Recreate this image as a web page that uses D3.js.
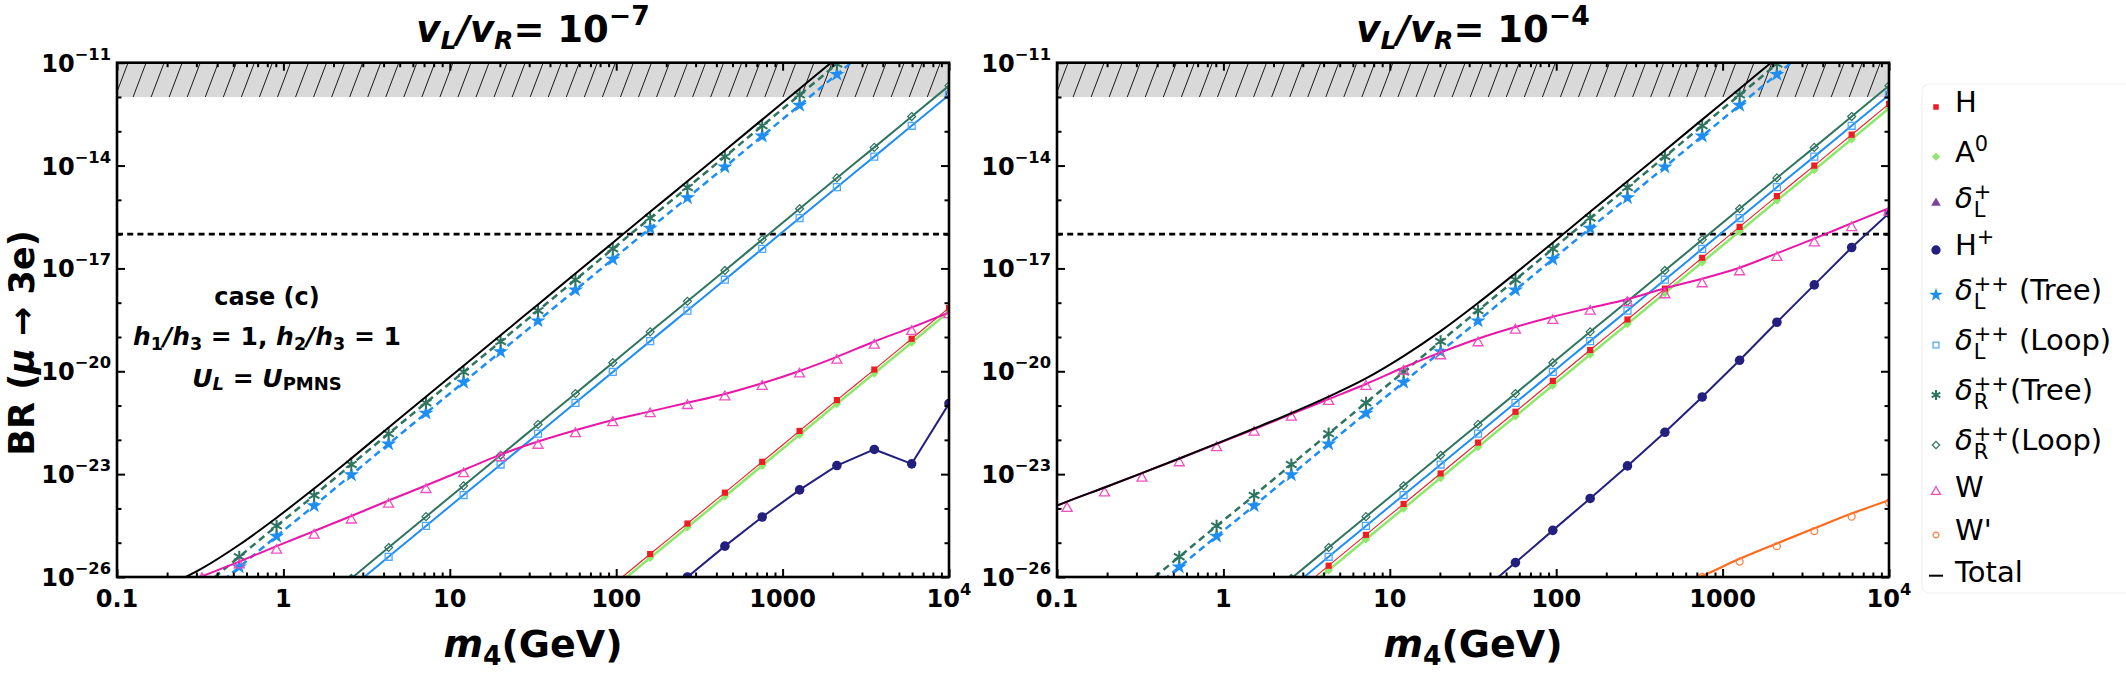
<!DOCTYPE html>
<html><head><meta charset="utf-8">
<script src="https://cdn.jsdelivr.net/npm/d3@7"></script>
<style>
body{margin:0;background:#fff;}
text{font-family:"DejaVu Sans",sans-serif;}
</style></head><body>
<svg id="c" width="2126" height="674" style="background:#fff"></svg>
<script>
// ---------- DATA (log10 of BR at each mass m4 in GeV) ----------
const massGrid = [0.1, 0.115, 0.193, 0.324, 0.543, 0.91, 1.53, 2.56, 4.29, 7.19, 12.1, 20.2, 33.9, 56.9, 95.4, 160, 268, 450, 754, 1265, 2120, 3557, 5966, 10000];

const deltaRTree = [-28.35,-28.11,-27.21,-26.31,-25.41,-24.51,-23.62,-22.72,-21.82,-20.92,-20.02,-19.13,-18.23,-17.33,-16.43,-15.53,-14.64,-13.74,-12.84,-11.94,-11.04,-10.15,-9.25,-8.35];
const deltaLTree = [-28.65,-28.41,-27.51,-26.61,-25.71,-24.81,-23.92,-23.02,-22.12,-21.22,-20.32,-19.43,-18.53,-17.63,-16.73,-15.83,-14.94,-14.04,-13.14,-12.24,-11.34,-10.45,-9.55,-8.65];
const deltaRLoop = [-31.67,-31.43,-30.53,-29.63,-28.73,-27.83,-26.94,-26.04,-25.14,-24.24,-23.34,-22.45,-21.55,-20.65,-19.75,-18.85,-17.96,-17.06,-16.16,-15.26,-14.36,-13.47,-12.57,-11.67];
const deltaLLoop = [-31.94,-31.70,-30.80,-29.90,-29.00,-28.10,-27.21,-26.31,-25.41,-24.51,-23.61,-22.72,-21.82,-20.92,-20.02,-19.12,-18.23,-17.33,-16.43,-15.53,-14.63,-13.74,-12.84,-11.94];

// v_L/v_R = 1e-7
const hLeft   = [-38.15,-37.91,-37.01,-36.11,-35.21,-34.31,-33.42,-32.52,-31.62,-30.72,-29.82,-28.93,-28.03,-27.13,-26.23,-25.33,-24.44,-23.54,-22.64,-21.74,-20.84,-19.95,-19.05,-18.15];
const a0Left  = [-38.26,-38.02,-37.12,-36.22,-35.32,-34.42,-33.53,-32.63,-31.73,-30.83,-29.93,-29.04,-28.14,-27.24,-26.34,-25.44,-24.55,-23.65,-22.75,-21.85,-20.95,-20.06,-19.16,-18.26];
const hPlusLeft = [null,null,null,null,null,null,null,null,null,null,null,null,null,null,null,-26.95,-26.0,-25.10,-24.25,-23.46,-22.75,-22.28,-22.70,-20.94];
const wLeft   = [-27.0,-26.88,-26.43,-25.98,-25.55,-25.10,-24.66,-24.22,-23.77,-23.33,-22.88,-22.43,-22.05,-21.72,-21.42,-21.17,-20.92,-20.66,-20.35,-19.99,-19.58,-19.13,-18.72,-18.28];
const wLeftMarks = [null,-26.98,-26.53,-26.05,-25.65,-25.22,-24.78,-24.34,-23.88,-23.45,-22.99,-22.52,-22.16,-21.82,-21.50,-21.24,-21.0,-20.75,-20.44,-20.08,-19.68,-19.24,-18.84,-18.35];
const totalLeft = [-26.97,-26.80,-26.30,-25.75,-25.06,-24.27,-23.42,-22.54,-21.64,-20.74,-19.84,-18.95,-18.05,-17.15,-16.25,-15.35,-14.46,-13.56,-12.66,-11.76,-10.86,-9.97,-9.07,-8.17];

// v_L/v_R = 1e-4
const hRight  = [-32.2,-31.96,-31.06,-30.16,-29.26,-28.36,-27.47,-26.57,-25.67,-24.77,-23.87,-22.98,-22.08,-21.18,-20.28,-19.38,-18.49,-17.59,-16.69,-15.79,-14.89,-14.0,-13.1,-12.2];
const a0Right = [-32.33,-32.09,-31.19,-30.29,-29.39,-28.49,-27.60,-26.70,-25.80,-24.90,-24.00,-23.11,-22.21,-21.31,-20.41,-19.51,-18.62,-17.72,-16.82,-15.92,-15.02,-14.13,-13.23,-12.33];
const hPlusRight = [null,null,null,null,null,null,null,null,null,null,null,null,-26.5,-25.58,-24.64,-23.71,-22.76,-21.78,-20.75,-19.68,-18.57,-17.48,-16.39,-15.39];
const wRight  = [-23.92,-23.80,-23.39,-22.97,-22.55,-22.12,-21.69,-21.25,-20.81,-20.37,-19.89,-19.45,-19.05,-18.71,-18.41,-18.15,-17.90,-17.58,-17.30,-16.98,-16.56,-16.13,-15.68,-15.24];
const wRightMarks = [null,-24.00,-23.55,-23.12,-22.67,-22.23,-21.78,-21.34,-20.88,-20.44,-20.00,-19.55,-19.17,-18.80,-18.52,-18.25,-18.00,-17.77,-17.45,-17.10,-16.68,-16.26,-15.81,-15.36];
const wPrimeRight = [null,null,null,null,null,null,null,null,null,null,null,null,null,null,null,null,null,-26.4,-25.97,-25.47,-25.02,-24.58,-24.15,-23.76];
const wPrimeRightMarks = [null,null,null,null,null,null,null,null,null,null,null,null,null,null,null,null,null,null,-26.0,-25.55,-25.10,-24.66,-24.24,-23.83];
const totalRight = [-23.92,-23.80,-23.39,-22.97,-22.545,-22.11,-21.67,-21.22,-20.74,-20.21,-19.56,-18.83,-18.01,-17.14,-16.25,-15.35,-14.46,-13.56,-12.66,-11.76,-10.86,-9.97,-9.07,-8.17];

const currentLimit = [1e-12, 1e-11];   // excluded band
const futureLimit = 1e-16;            // dotted line
const panelTitles = ['\u22127', '\u22124'];
const xTickValues = [0.1, 1, 10, 100, 1000, 10000];
const xTickLabels = ['0.1', '1', '10', '100', '1000', '10^4'];
const yTickValues = [1e-11, 1e-14, 1e-17, 1e-20, 1e-23, 1e-26];
const yTickExps = ['\u221211', '\u221214', '\u221217', '\u221220', '\u221223', '\u221226'];
const legendNames = ['H', 'A0', 'dL+', 'H+', 'dLT', 'dLL', 'dRT', 'dRL', 'W', "W'", 'Total'];

// ---------- STYLE ----------
const C = {
  H:'#ee1c25', A0:'#8fe86e', dLp:'#7a4595', Hp:'#231f7e', blue:'#1e8ef2', lblue:'#4ea8ff',
  teal:'#2e7461', W:'#ea16a8', Wm:'#ef4fbf', Wp:'#ff6a1a', Wpm:'#ff7f40', tot:'#000'
};
const yTop = 62.7, yBot = 577;
const panelX = [[117, 949], [1057, 1889]];

const svg = d3.select('#c');
const defs = svg.append('defs');

const asterisk = {draw(ctx, size){const r=Math.sqrt(size)/2; for(let k=0;k<3;k++){const a=Math.PI/2+k*Math.PI/3; ctx.moveTo(r*Math.cos(a), r*Math.sin(a)); ctx.lineTo(-r*Math.cos(a), -r*Math.sin(a));}}};
const diamond = {draw(ctx, size){const r=Math.sqrt(size)/2*1.3; ctx.moveTo(0,-r); ctx.lineTo(r,0); ctx.lineTo(0,r); ctx.lineTo(-r,0); ctx.closePath();}};

const mk = {
  H:   {sym:d3.symbolSquare, size:38, fill:C.H, stroke:'none'},
  A0:  {sym:diamond, size:44, fill:C.A0, stroke:'none'},
  Hp:  {sym:d3.symbolCircle, size:72, fill:C.Hp, stroke:'none'},
  star:{sym:d3.symbolStar, size:72, fill:C.blue, stroke:'none'},
  sq:  {sym:d3.symbolSquare, size:48, fill:'none', stroke:C.lblue, sw:1.3},
  ast: {sym:asterisk, size:150, fill:'none', stroke:C.teal, sw:2},
  dia: {sym:diamond, size:38, fill:'none', stroke:C.teal, sw:1.2},
  tri: {sym:d3.symbolTriangle, size:44, fill:'none', stroke:C.Wm, sw:1.3},
  circ:{sym:d3.symbolCircle, size:38, fill:'none', stroke:C.Wpm, sw:1.3},
  dLp: {sym:d3.symbolTriangle, size:40, fill:C.dLp, stroke:'none'}
};

function rich(parent, x, y, anchor, fs, segs, weight){
  const t = parent.append('text').attr('x', x).attr('y', y).attr('text-anchor', anchor)
    .attr('font-size', fs).attr('font-weight', weight || 'bold').attr('fill', '#000')
    .attr('xml:space', 'preserve');
  let off = 0;
  segs.forEach(s => {
    const target = s.sub ? fs*(s.dy!=null?s.dy:0.25) : s.sup ? -fs*(s.dy!=null?s.dy:0.5) : 0;
    const ts = t.append('tspan').text(s.t).attr('dy', target - off);
    if (s.sub || s.sup) ts.attr('font-size', fs*(s.sc || 0.68));
    if (s.i) ts.attr('font-style', 'italic');
    off = target;
  });
  return t;
}

function drawSymbol(layer, cx, cy, st, scale){
  layer.append('path')
    .attr('transform', `translate(${cx},${cy})`)
    .attr('d', d3.symbol().type(st.sym).size(st.size*(scale||1))())
    .attr('fill', st.fill).attr('stroke', st.stroke).attr('stroke-width', st.sw || 1);
}

panelX.forEach((px, pi) => {
  const x = d3.scaleLog().domain([0.1, 1e4]).range(px);
  const y = d3.scaleLog().domain([1e-26, 1e-11]).range([yBot, yTop]);
  const g = svg.append('g');
  const clipId = 'clip' + pi;
  defs.append('clipPath').attr('id', clipId).append('rect')
    .attr('x', px[0]).attr('y', yTop).attr('width', px[1]-px[0]).attr('height', yBot-yTop);

  const inner = g.append('g').attr('clip-path', `url(#${clipId})`);
  // excluded band with hatch
  const by0 = y(currentLimit[0]), by1 = y(currentLimit[1]);
  inner.append('rect').attr('x', px[0]).attr('y', by1).attr('width', px[1]-px[0]).attr('height', by0-by1).attr('fill', '#d9d9d9');
  d3.range(px[0]-20, px[1]+20, 18.05).forEach(hx => {
    inner.append('line').attr('x1', hx).attr('y1', by0).attr('x2', hx+13).attr('y2', by1)
      .attr('stroke', '#1a1a1a').attr('stroke-width', 1);
  });
  // future sensitivity
  inner.append('line').attr('x1', px[0]).attr('x2', px[1]).attr('y1', y(futureLimit)).attr('y2', y(futureLimit))
    .attr('stroke', '#000').attr('stroke-width', 2.6).attr('stroke-dasharray', '6,4.2');

  const S = pi === 0 ? {
    h:hLeft, a0:a0Left, hp:hPlusLeft, w:wLeft, wm:wLeftMarks, wp:null, wpm:null, tot:totalLeft
  } : {
    h:hRight, a0:a0Right, hp:hPlusRight, w:wRight, wm:wRightMarks, wp:wPrimeRight, wpm:wPrimeRightMarks, tot:totalRight
  };
  const series = [
    {v:S.a0, color:C.A0, w:2.6, m:mk.A0},
    {v:S.h, color:C.H, w:1.1, m:mk.H},
    {v:S.hp, color:C.Hp, w:2, m:mk.Hp, curve:d3.curveLinear},
    {v:deltaRLoop, color:C.teal, w:2, m:mk.dia},
    {v:deltaLLoop, color:C.blue, w:2, m:mk.sq},
    {v:deltaLTree, color:C.blue, w:2.5, m:mk.star, dash:'7,4.5'},
    {v:deltaRTree, color:C.teal, w:2.5, m:mk.ast, dash:'7,4.5'},
    {v:S.w, marks:S.wm, color:C.W, w:2, m:mk.tri},
    {v:S.wp, marks:S.wpm, color:C.Wp, w:2.2, m:mk.circ},
    {v:S.tot, color:C.tot, w:2, m:null}
  ];
  series.forEach(s => {
    if (!s.v) return;
    const pts = massGrid.map((m, i) => ({m, e:s.v[i]}));
    const line = d3.line().defined(d => d.e != null)
      .x(d => x(d.m)).y(d => y(Math.pow(10, d.e))).curve(s.curve || d3.curveMonotoneX);
    inner.append('path').datum(pts).attr('d', line).attr('fill', 'none')
      .attr('stroke', s.color).attr('stroke-width', s.w).attr('stroke-dasharray', s.dash || null);
    if (s.m) {
      const mv = s.marks || s.v;
      massGrid.forEach((m, i) => {
        const e = mv[i];
        if (e == null || i === 0 || e < -26.6 || e > -10.4) return;
        drawSymbol(inner, x(m), y(Math.pow(10, e)), s.m);
      });
    }
  });

  // axes (inward ticks on all four sides)
  const xMinor = x.ticks().filter(v => !xTickValues.some(t => Math.abs(t - v)/t < 1e-6));
  const yMinor = d3.range(-26, -10).map(e => Math.pow(10, e)).filter(v => !yTickValues.some(t => Math.abs(t - v)/t < 1e-6));
  const ax = (gen, tx, ty) => {
    const a = g.append('g').attr('transform', `translate(${tx},${ty})`).call(gen);
    a.select('.domain').remove();
    a.selectAll('line').attr('stroke', '#000').attr('stroke-width', 2);
    a.selectAll('text').remove();
  };
  ax(d3.axisBottom(x).tickValues(xTickValues).tickSize(-8).tickFormat(''), 0, yBot);
  ax(d3.axisBottom(x).tickValues(xMinor).tickSize(-4.5).tickFormat(''), 0, yBot);
  ax(d3.axisTop(x).tickValues(xTickValues).tickSize(-8).tickFormat(''), 0, yTop);
  ax(d3.axisTop(x).tickValues(xMinor).tickSize(-4.5).tickFormat(''), 0, yTop);
  ax(d3.axisLeft(y).tickValues(yTickValues).tickSize(-8).tickFormat(''), px[0], 0);
  ax(d3.axisLeft(y).tickValues(yMinor).tickSize(-4.5).tickFormat(''), px[0], 0);
  ax(d3.axisRight(y).tickValues(yTickValues).tickSize(-8).tickFormat(''), px[1], 0);
  ax(d3.axisRight(y).tickValues(yMinor).tickSize(-4.5).tickFormat(''), px[1], 0);

  g.append('rect').attr('x', px[0]).attr('y', yTop).attr('width', px[1]-px[0]).attr('height', yBot-yTop)
    .attr('fill', 'none').attr('stroke', '#000').attr('stroke-width', 2.6);

  // tick labels
  xTickValues.forEach((v, i) => {
    const lab = xTickLabels[i];
    if (lab.includes('^')) {
      const [b, e] = lab.split('^');
      rich(g, x(v), 607, 'middle', 24, [{t:b}, {t:e, sup:true, dy:0.5, sc:0.68}]);
    } else rich(g, x(v), 607, 'middle', 24, [{t:lab}]);
  });
  yTickValues.forEach((v, i) => {
    rich(g, px[0]-6, y(v)+9, 'end', 24, [{t:'10'}, {t:yTickExps[i], sup:true, dy:0.5, sc:0.68}]);
  });

  // title
  const cx = (px[0]+px[1])/2;
  rich(g, cx, 42, 'middle', 37, [
    {t:'v', i:true}, {t:'L', i:true, sub:true, dy:0.2}, {t:'/', i:true}, {t:'v', i:true},
    {t:'R', i:true, sub:true, dy:0.2}, {t:'= 10'}, {t:panelTitles[pi], sup:true, dy:0.45, sc:0.72}
  ]);
  // x label
  rich(g, cx, 657, 'middle', 38, [{t:'m', i:true}, {t:'4', sub:true, dy:0.22, sc:0.7}, {t:'(GeV)'}]);
});

// annotation in left panel
const ann = svg.append('g');
rich(ann, 267, 305, 'middle', 24, [{t:'case (c)'}]);
rich(ann, 267, 345, 'middle', 25, [
  {t:'h', i:true}, {t:'1', sub:true, dy:0.2, sc:0.7}, {t:'/h', i:true}, {t:'3', sub:true, dy:0.2, sc:0.7},
  {t:' = 1, '}, {t:'h', i:true}, {t:'2', sub:true, dy:0.2, sc:0.7}, {t:'/h', i:true}, {t:'3', sub:true, dy:0.2, sc:0.7}, {t:' = 1'}
]);
rich(ann, 267, 387, 'middle', 25, [
  {t:'U', i:true}, {t:'L', i:true, sub:true, dy:0.1, sc:0.72}, {t:' = '}, {t:'U', i:true}, {t:'PMNS', sub:true, dy:0.1, sc:0.72}
]);

// y-axis label
const yl = svg.append('g').attr('transform', 'translate(34,343) rotate(-90)');
rich(yl, 0, 0, 'middle', 35, [{t:'BR ('}, {t:'\u03bc', i:true}, {t:' \u2192 3e)'}]);

// legend
const lg = svg.append('g');
lg.append('rect').attr('x', 1922).attr('y', 84).attr('width', 230).attr('height', 509).attr('rx', 7)
  .attr('fill', '#fff').attr('stroke', '#f0f0f0').attr('stroke-width', 1.2);
const legBase = [112, 161.7, 208, 255, 300, 350, 400, 450, 496.7, 540, 581.7];
const legMarkers = [mk.H, mk.A0, mk.dLp, mk.Hp, mk.star, mk.sq, mk.ast, mk.dia, mk.tri, mk.circ, null];
const legScale = [0.8, 0.9, 1, 0.95, 0.8, 0.7, 0.65, 0.85, 0.8, 0.7, 1];
const LX = 1936, TX = 1955, LF = 29, SF = 21;
function measure(str, fs, italic){
  const t = lg.append('text').attr('font-size', fs).attr('font-style', italic ? 'italic' : 'normal').text(str);
  const w = t.node().getComputedTextLength(); t.remove(); return w;
}
function stacked(base, supT, subT, rest){
  const wSup = measure(supT, SF), wSub = measure(subT, SF);
  const w1 = Math.max(wSup, wSub);
  const t = lg.append('text').attr('x', TX).attr('y', base).attr('font-size', LF);
  t.append('tspan').attr('font-style', 'italic').text('\u03b4');
  t.append('tspan').attr('font-size', SF).attr('dx', 1).attr('dy', -9).text(supT);
  t.append('tspan').attr('font-size', SF).attr('dx', -wSup).attr('dy', 18).text(subT);
  if (rest) {
    const gap = rest.startsWith(' ') ? 10 : 1;
    t.append('tspan').attr('dx', w1 - wSub + gap).attr('dy', -9).text(rest.trim());
  }
}
legendNames.forEach((n, i) => {
  const b = legBase[i];
  if (legMarkers[i]) drawSymbol(lg, LX, b-5, legMarkers[i], legScale[i]);
  else lg.append('line').attr('x1', LX-7).attr('x2', LX+7).attr('y1', b-6).attr('y2', b-6).attr('stroke', '#000').attr('stroke-width', 2);
  if (n === 'H') rich(lg, TX, b, 'start', LF, [{t:'H'}], 'normal');
  else if (n === 'A0') rich(lg, TX, b, 'start', LF, [{t:'A'}, {t:'0', sup:true, dy:0.36, sc:0.72}], 'normal');
  else if (n === 'H+') rich(lg, TX, b, 'start', LF, [{t:'H'}, {t:'+', sup:true, dy:0.38, sc:0.72}], 'normal');
  else if (n === 'dL+') stacked(b, '+', 'L', null);
  else if (n === 'dLT') stacked(b, '++', 'L', ' (Tree)');
  else if (n === 'dLL') stacked(b, '++', 'L', ' (Loop)');
  else if (n === 'dRT') stacked(b, '++', 'R', '(Tree)');
  else if (n === 'dRL') stacked(b, '++', 'R', '(Loop)');
  else rich(lg, TX, b, 'start', LF, [{t:n}], 'normal');
});
</script>
</body></html>
